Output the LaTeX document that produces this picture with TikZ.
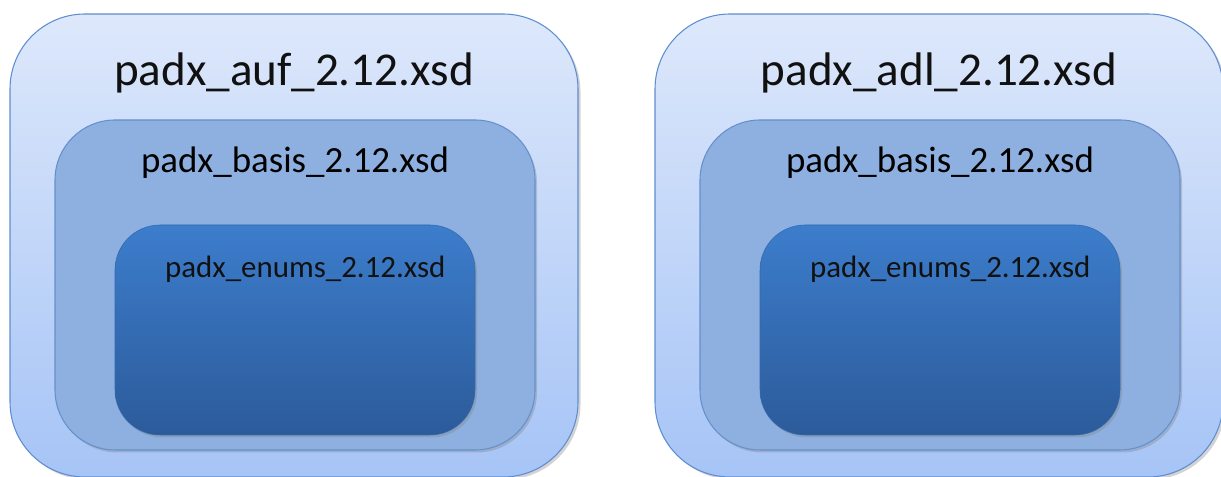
\documentclass[tikz,border=0pt]{standalone}
\usepackage{fontspec}
\setmainfont{Carlito}
\usepackage{xcolor}
\usepackage{tikz}
\usetikzlibrary{positioning,calc,shadows}
\definecolor{outertop}{HTML}{DDE8FB}
\definecolor{outerbot}{HTML}{A6C4F6}
\definecolor{outerline}{HTML}{5E8DD0}
\definecolor{basisfill}{HTML}{8DB0E0}
\definecolor{basisline}{HTML}{6690CB}
\definecolor{enumstop}{HTML}{3C7DCC}
\definecolor{enumsbot}{HTML}{2C5B9A}
\definecolor{txtdark}{HTML}{111111}
\tikzset{
  shell/.style={draw=outerline, line width=.6pt, top color=outertop, bottom color=outerbot,
    rounded corners=1.5cm, minimum width=11.36cm, minimum height=9.26cm, inner sep=0pt,
    drop shadow={opacity=.35, shadow xshift=.05cm, shadow yshift=-.05cm}},
  basisbox/.style={draw=basisline, line width=.6pt, fill=basisfill,
    rounded corners=1.2cm, minimum width=9.6cm, minimum height=6.6cm, inner sep=0pt,
    drop shadow={opacity=.35, shadow xshift=.04cm, shadow yshift=-.05cm}},
  enumsbox/.style={draw=enumsbot!60!enumstop, line width=.3pt, top color=enumstop, bottom color=enumsbot,
    rounded corners=.9cm, minimum width=7.2cm, minimum height=4.2cm, inner sep=0pt,
    drop shadow={opacity=.35, shadow xshift=.04cm, shadow yshift=-.05cm}},
  ttl/.style={font=\fontsize{26.8}{30}\selectfont, text=txtdark, inner sep=0pt},
  sub/.style={font=\fontsize{21}{25}\selectfont, text=black, inner sep=0pt},
  small/.style={font=\fontsize{17.6}{21}\selectfont, text=txtdark, inner sep=0pt, anchor=west},
}
\begin{document}
\begin{tikzpicture}
  \useasboundingbox (0,0) rectangle (24.42,9.54);
  \foreach \i/\x/\name in {1/0/auf, 2/12.9/adl}{
    \node[shell] (outer-\i) at (\x+5.88,4.63) {};
    \node[basisbox] (basis-\i) at (\x+5.9,3.84) {};
    \node[enumsbox] (enums-\i) at (\x+5.9,2.94) {};
    \node[ttl] (title-\i) at ([yshift=-1.18cm]outer-\i.north) {padx\_\name\_2.12.xsd};
    \node[sub] (btxt-\i) at ([yshift=-.86cm]basis-\i.north) {padx\_basis\_2.12.xsd};
    \node[small] (etxt-\i) at ([xshift=1cm,yshift=-.9cm]enums-\i.north west) {padx\_enums\_2.12.xsd};
  }
\end{tikzpicture}
\end{document}
